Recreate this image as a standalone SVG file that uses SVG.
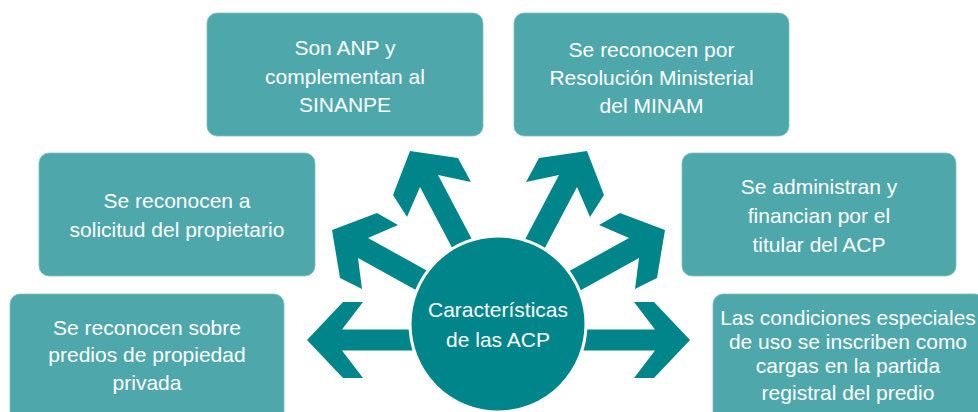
<svg xmlns="http://www.w3.org/2000/svg" xmlns:xlink="http://www.w3.org/1999/xlink" width="978" height="412" viewBox="0 0 978 412">
<style>
.box{fill:#4EA8AB;stroke:#7DBFC1;stroke-width:0.8}
.t{font-family:"Liberation Sans",Arial,sans-serif;font-size:21px;fill:#FFFFFF;text-anchor:middle}
.arr{fill:#00868A}
</style>
<defs>
<g id="leftArrows">
<polygon class="arr" points="307,340 343,302 363,302 342,329.5 440,329.5 440,350.5 342,350.5 363,378 343,378"/>
<polygon class="arr" points="332,230 377,213 398,225 368,238 462,290 452,310 358,258 362,289 340,278"/>
<polygon class="arr" points="410,151 458,158 471,182 438,175 486,266 468,278 420,187 407,217 393,195"/>
</g>
</defs>
<rect width="978" height="412" fill="#FFFFFF"/>
<g id="connectors">
<use xlink:href="#leftArrows"/>
<use xlink:href="#leftArrows" transform="matrix(-1,0,0,1,997,0)"/>
</g>
<g id="center">
<circle cx="498" cy="324" r="88" fill="#00868A" stroke="#FFFFFF" stroke-width="3"/>
<text class="t" x="498" y="317">Características</text>
<text class="t" x="498" y="347">de las ACP</text>
</g>
<g id="n1">
<rect class="box" x="207" y="13" width="276" height="123" rx="10"/>
<text class="t" x="345" y="55">Son ANP y</text>
<text class="t" x="345" y="84">complementan al</text>
<text class="t" x="345" y="112">SINANPE</text>
</g>
<g id="n2">
<rect class="box" x="514" y="13" width="275" height="123" rx="10"/>
<text class="t" x="651.5" y="57">Se reconocen por</text>
<text class="t" x="651.5" y="85">Resolución Ministerial</text>
<text class="t" x="651.5" y="113">del MINAM</text>
</g>
<g id="n3">
<rect class="box" x="39" y="153" width="276" height="123" rx="10"/>
<text class="t" x="177" y="208">Se reconocen a</text>
<text class="t" x="177" y="237">solicitud del propietario</text>
</g>
<g id="n4">
<rect class="box" x="682" y="153" width="274" height="123" rx="10"/>
<text class="t" x="819" y="194">Se administran y</text>
<text class="t" x="819" y="223">financian por el</text>
<text class="t" x="819" y="252">titular del ACP</text>
</g>
<g id="n5">
<rect class="box" x="10" y="294" width="274" height="130" rx="10"/>
<text class="t" x="147" y="335">Se reconocen sobre</text>
<text class="t" x="147" y="362">predios de propiedad</text>
<text class="t" x="147" y="390">privada</text>
</g>
<g id="n6">
<rect class="box" x="713" y="294" width="272" height="130" rx="10"/>
<text class="t" x="848" y="325">Las condiciones especiales</text>
<text class="t" x="848" y="349">de uso se inscriben como</text>
<text class="t" x="848" y="373">cargas en la partida</text>
<text class="t" x="848" y="400">registral del predio</text>
</g>
</svg>
